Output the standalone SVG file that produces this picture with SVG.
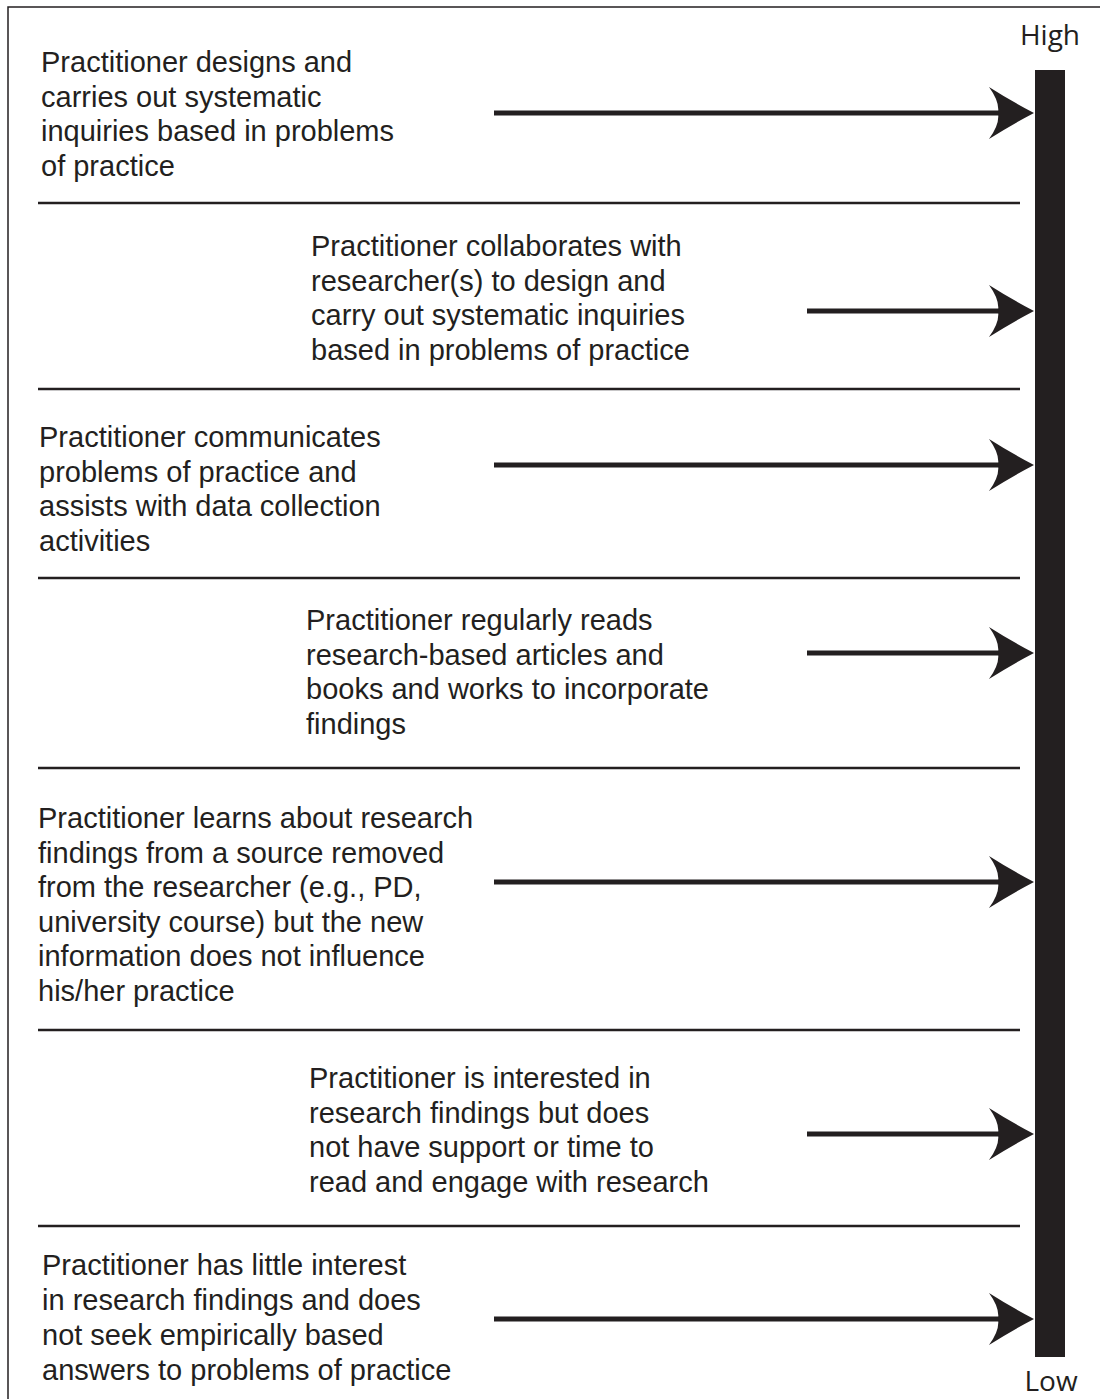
<svg xmlns="http://www.w3.org/2000/svg" width="1100" height="1399" viewBox="0 0 1100 1399">
<style>
.t{font-family:"Liberation Sans",Arial,sans-serif;font-size:29px;fill:#231f20}
.s{font-family:"Open Sans","DejaVu Sans",sans-serif;font-size:28px;fill:#231f20;text-anchor:middle}
.sep{stroke:#231f20;stroke-width:2.5}
.shaft{stroke:#231f20;stroke-width:5}
.head{fill:#231f20}
</style>
<defs>
<path id="ah" d="M1034,0 Q1011,-12 989,-26 Q1000,-11 998,0 Q1000,11 989,26 Q1011,12 1034,0 Z"/>
</defs>
<rect width="1100" height="1399" fill="#ffffff"/>
<g id="frame" fill="none" stroke="#231f20" stroke-width="1.5">
<polyline points="8,1399 8,7 1100,7"/>
</g>
<g id="scale">
<rect x="1035" y="70" width="30" height="1287" fill="#231f20"/>
<text class="s" x="1050" y="45">High</text>
<text class="s" x="1051" y="1391">Low</text>
</g>
<g id="separators">
<line class="sep" x1="38" y1="203" x2="1020" y2="203"/>
<line class="sep" x1="38" y1="389" x2="1020" y2="389"/>
<line class="sep" x1="38" y1="578" x2="1020" y2="578"/>
<line class="sep" x1="38" y1="768" x2="1020" y2="768"/>
<line class="sep" x1="38" y1="1030" x2="1020" y2="1030"/>
<line class="sep" x1="38" y1="1226" x2="1020" y2="1226"/>
</g>
<g id="node1">
<text class="t" x="41" y="72">Practitioner designs and</text>
<text class="t" x="41" y="106.5">carries out systematic</text>
<text class="t" x="41" y="141">inquiries based in problems</text>
<text class="t" x="41" y="175.5">of practice</text>
</g>
<g id="node2">
<text class="t" x="311" y="256">Practitioner collaborates with</text>
<text class="t" x="311" y="290.5">researcher(s) to design and</text>
<text class="t" x="311" y="325">carry out systematic inquiries</text>
<text class="t" x="311" y="359.5">based in problems of practice</text>
</g>
<g id="node3">
<text class="t" x="39" y="447">Practitioner communicates</text>
<text class="t" x="39" y="481.5">problems of practice and</text>
<text class="t" x="39" y="516">assists with data collection</text>
<text class="t" x="39" y="550.5">activities</text>
</g>
<g id="node4">
<text class="t" x="306" y="630">Practitioner regularly reads</text>
<text class="t" x="306" y="664.5">research-based articles and</text>
<text class="t" x="306" y="699">books and works to incorporate</text>
<text class="t" x="306" y="733.5">findings</text>
</g>
<g id="node5">
<text class="t" x="38" y="828">Practitioner learns about research</text>
<text class="t" x="38" y="862.5">findings from a source removed</text>
<text class="t" x="38" y="897">from the researcher (e.g., PD,</text>
<text class="t" x="38" y="931.5">university course) but the new</text>
<text class="t" x="38" y="966">information does not influence</text>
<text class="t" x="38" y="1000.5">his/her practice</text>
</g>
<g id="node6">
<text class="t" x="309" y="1088">Practitioner is interested in</text>
<text class="t" x="309" y="1122.5">research findings but does</text>
<text class="t" x="309" y="1157">not have support or time to</text>
<text class="t" x="309" y="1191.5">read and engage with research</text>
</g>
<g id="node7">
<text class="t" x="42" y="1275">Practitioner has little interest</text>
<text class="t" x="42" y="1310">in research findings and does</text>
<text class="t" x="42" y="1345">not seek empirically based</text>
<text class="t" x="42" y="1380">answers to problems of practice</text>
</g>
<g id="connectors">
<line class="shaft" x1="494" y1="113" x2="1000" y2="113"/>
<use href="#ah" class="head" transform="translate(0,113)"/>
<line class="shaft" x1="807" y1="311" x2="1000" y2="311"/>
<use href="#ah" class="head" transform="translate(0,311)"/>
<line class="shaft" x1="494" y1="465" x2="1000" y2="465"/>
<use href="#ah" class="head" transform="translate(0,465)"/>
<line class="shaft" x1="807" y1="653" x2="1000" y2="653"/>
<use href="#ah" class="head" transform="translate(0,653)"/>
<line class="shaft" x1="494" y1="882" x2="1000" y2="882"/>
<use href="#ah" class="head" transform="translate(0,882)"/>
<line class="shaft" x1="807" y1="1134" x2="1000" y2="1134"/>
<use href="#ah" class="head" transform="translate(0,1134)"/>
<line class="shaft" x1="494" y1="1319" x2="1000" y2="1319"/>
<use href="#ah" class="head" transform="translate(0,1319)"/>
</g>
</svg>
